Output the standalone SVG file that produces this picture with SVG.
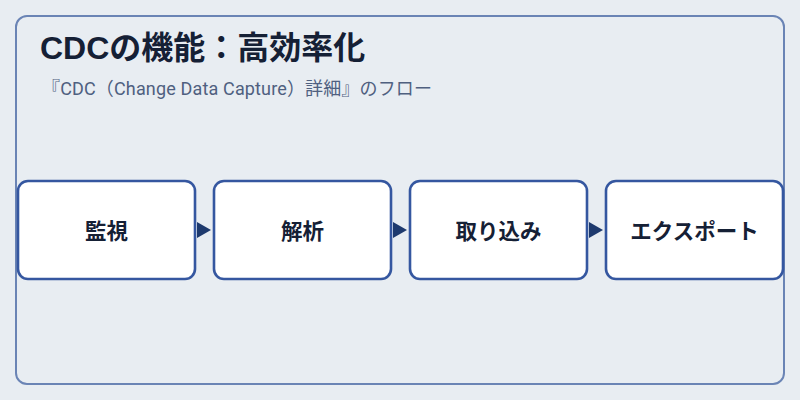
<svg xmlns="http://www.w3.org/2000/svg" width="800" height="400" viewBox="0 0 800 400">
<style>
.bg{fill:#e8edf2}
.panel{fill:#e8edf2;stroke:#6a84b5;stroke-width:2}
.box{fill:#ffffff;stroke:#3557a0;stroke-width:2.6}
.title{font-family:"Liberation Sans","Noto Sans CJK JP",sans-serif;font-weight:700;font-size:32px;fill:#152035}
.sub{font-family:"Roboto","Noto Sans CJK JP",sans-serif;font-size:18px;letter-spacing:0.15px;fill:#4f6080}
.lbl{font-family:"Noto Sans CJK JP","Noto Sans",sans-serif;font-weight:700;font-size:21.5px;fill:#152035;text-anchor:middle}
.arr{fill:#1e3a6e}
</style>
<defs>
<polygon id="tri" points="0,-8 14,0 0,8"/>
</defs>
<rect class="bg" width="800" height="400"/>
<rect class="panel" x="16" y="16" width="768" height="368" rx="11"/>
<text class="title" x="40" y="59">CDCの機能：高効率化</text>
<text class="sub" x="42" y="95">『CDC（Change Data Capture）詳細』のフロー</text>
<g id="connectors">
<use href="#tri" class="arr" x="197" y="230"/>
<use href="#tri" class="arr" x="393" y="230"/>
<use href="#tri" class="arr" x="589" y="230"/>
</g>
<g id="node1"><rect class="box" x="18" y="181" width="177" height="98" rx="10"/><text class="lbl" x="106.5" y="239">監視</text></g>
<g id="node2"><rect class="box" x="214" y="181" width="177" height="98" rx="10"/><text class="lbl" x="302.5" y="239">解析</text></g>
<g id="node3"><rect class="box" x="410" y="181" width="177" height="98" rx="10"/><text class="lbl" x="498.5" y="239">取り込み</text></g>
<g id="node4"><rect class="box" x="606" y="181" width="177" height="98" rx="10"/><text class="lbl" x="694.5" y="239">エクスポート</text></g>
</svg>
